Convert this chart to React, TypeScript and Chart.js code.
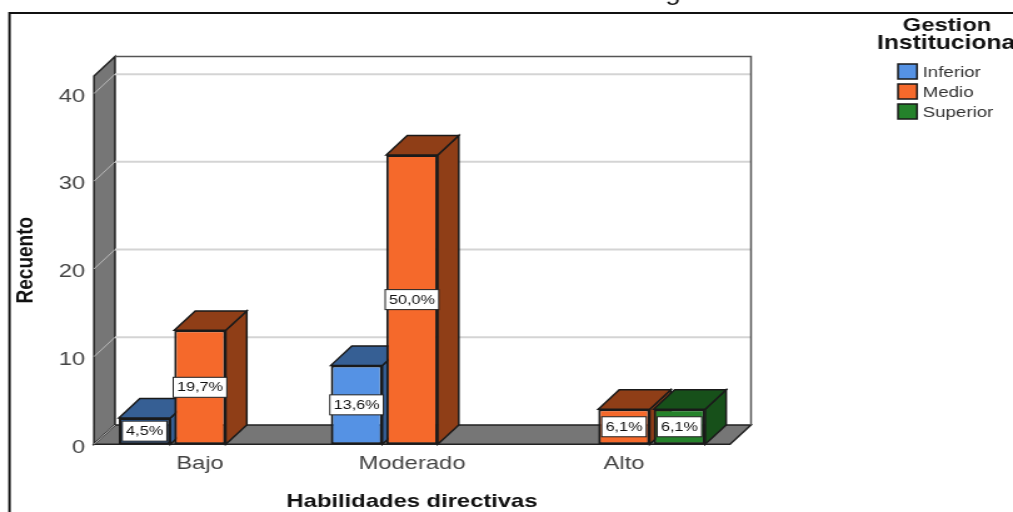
import React, { useEffect, useRef } from "react";
import { Chart, registerables } from "chart.js";

Chart.register(...registerables);

const categories = ["Bajo", "Moderado", "Alto"];
const seriesNames = ["Inferior", "Medio", "Superior"];
const inferior = [3, 9, null];
const medio = [13, 33, 4];
const superior = [null, null, 4];
const inferiorPct = ["4,5%", "13,6%", ""];
const medioPct = ["19,7%", "50,0%", "6,1%"];
const superiorPct = ["", "", "6,1%"];
const yTicks = [0, 10, 20, 30, 40];
const legendTitle = ["Gestion", "Institucional"];
const xTitle = "Habilidades directivas";
const yTitle = "Recuento";

const frontColors = ["#5592e4", "#f5692b", "#25822b"];
const inferiorFills = ["#2f62a3", "#5592e4", "#5592e4"];
const shadeColors = ["#365f94", "#8f3e17", "#17501a"];
const outline = "#1a1a1a";
const wallGray = "#767676";
const gridGray = "#d4d4d4";
const FONT = "'Liberation Sans', Arial, sans-serif";

// The drawing surface is narrower than its display width; CSS widens everything evenly.
const DRAW_W = 810;
const DRAW_H = 512;
const DISPLAY_W = 1013;
const K = DISPLAY_W / DRAW_W;
const DX = 21 / K; // depth of the 3D box, horizontally
const DY = 19.4; // depth of the 3D box, vertically
const PAD_LEFT = 9.2;

function poly(ctx: CanvasRenderingContext2D, pts: number[][], fill: string, stroke: string, lw = 1.5) {
  ctx.beginPath();
  pts.forEach(([x, y], i) => (i ? ctx.lineTo(x, y) : ctx.moveTo(x, y)));
  ctx.closePath();
  ctx.fillStyle = fill;
  ctx.fill();
  ctx.lineWidth = lw;
  ctx.strokeStyle = stroke;
  ctx.stroke();
}

const box3d = {
  id: "box3d",
  // Frame, walls, floor and gridlines, then each series from left to right with
  // its top and side faces beneath its front faces so that neighbours overlap properly
  beforeDatasetsDraw(chart: any) {
    const { ctx, chartArea: a, scales } = chart;
    const y = scales.y;
    ctx.save();

    ctx.strokeStyle = "#111";
    ctx.lineWidth = 2;
    ctx.beginPath();
    ctx.moveTo(DRAW_W, 13);
    ctx.lineTo(9.5 / K, 13);
    ctx.lineTo(9.5 / K, DRAW_H);
    ctx.stroke();

    ctx.fillStyle = "#111";
    ctx.font = `22px ${FONT}`;
    ctx.textAlign = "center";
    ctx.textBaseline = "alphabetic";
    ctx.fillText("g", 673 / K, 0);

    const l = a.left, r = a.right, t = a.top, b = a.bottom;
    poly(ctx, [[l, b], [l, t], [l + DX, t - DY], [l + DX, b - DY]], wallGray, "#222");
    poly(ctx, [[l, b], [r, b], [r + DX, b - DY], [l + DX, b - DY]], wallGray, "#222");

    for (const v of yTicks) {
      const py = y.getPixelForValue(v);
      ctx.strokeStyle = "#b8b8b8";
      ctx.lineWidth = 1;
      ctx.beginPath();
      ctx.moveTo(l, py);
      ctx.lineTo(l + DX, py - DY);
      ctx.stroke();
      if (v > 0) {
        ctx.strokeStyle = gridGray;
        ctx.lineWidth = 2;
        ctx.beginPath();
        ctx.moveTo(l + DX, py - DY);
        ctx.lineTo(r + DX, py - DY);
        ctx.stroke();
      }
    }
    ctx.strokeStyle = "#555";
    ctx.lineWidth = 1.5;
    ctx.beginPath();
    ctx.moveTo(l + DX, t - DY);
    ctx.lineTo(r + DX, t - DY);
    ctx.lineTo(r + DX, b - DY);
    ctx.stroke();

    chart.data.datasets.forEach((ds: any, d: number) => {
      const meta = chart.getDatasetMeta(d);
      meta.data.forEach((bar: any, i: number) => {
        if (ds.data[i] == null) return;
        const x0 = bar.x - bar.width / 2;
        const x1 = bar.x + bar.width / 2;
        const top = bar.y;
        const bot = bar.base;
        poly(ctx, [[x1, bot], [x1, top], [x1 + DX, top - DY], [x1 + DX, bot - DY]], shadeColors[d], outline);
        poly(ctx, [[x0, top], [x1, top], [x1 + DX, top - DY], [x0 + DX, top - DY]], shadeColors[d], outline);
      });
      meta.controller.draw();
    });

    ctx.restore();
  },
  // Series are already painted above, in their own order
  beforeDatasetDraw() {
    return false;
  },
  // Percentage boxes and the legend
  afterDatasetsDraw(chart: any) {
    const { ctx } = chart;
    const pct = [inferiorPct, medioPct, superiorPct];
    ctx.save();
    ctx.font = `13px ${FONT}`;
    ctx.textAlign = "center";
    ctx.textBaseline = "middle";
    pct.forEach((labels, d) => {
      chart.getDatasetMeta(d).data.forEach((bar: any, i: number) => {
        const text = labels[i];
        if (!text) return;
        const w = ctx.measureText(text).width + 6;
        const h = 20;
        const cy = (bar.y + bar.base) / 2;
        ctx.fillStyle = "#fff";
        ctx.strokeStyle = "#222";
        ctx.lineWidth = 1;
        ctx.fillRect(bar.x - w / 2, cy - h / 2, w, h);
        ctx.strokeRect(bar.x - w / 2, cy - h / 2, w, h);
        ctx.fillStyle = "#111";
        ctx.fillText(text, bar.x, cy + 0.5);
      });
    });

    ctx.fillStyle = "#111";
    ctx.font = `bold 19px ${FONT}`;
    ctx.fillText(legendTitle[0], 947 / K, 25.5);
    ctx.font = `bold 19.7px ${FONT}`;
    ctx.textAlign = "left";
    ctx.fillText(legendTitle[1], 877 / K, 44);

    ctx.font = `15px ${FONT}`;
    seriesNames.forEach((name, i) => {
      const cy = 71.5 + i * 20;
      ctx.fillStyle = frontColors[i];
      ctx.strokeStyle = outline;
      ctx.lineWidth = 1.5;
      ctx.fillRect(898 / K, cy - 7.5, 19 / K, 15);
      ctx.strokeRect(898 / K, cy - 7.5, 19 / K, 15);
      ctx.fillStyle = "#333";
      ctx.fillText(name, 922.5 / K, cy + 1.5);
    });
    ctx.restore();
  },
};

export default function App() {
  const ref = useRef<HTMLCanvasElement>(null);

  useEffect(() => {
    const seriesData = [inferior, medio, superior];
    const chart = new Chart(ref.current!, {
      type: "bar",
      data: {
        labels: categories,
        datasets: seriesNames.map((name, i) => ({
          label: name,
          data: seriesData[i],
          backgroundColor: i === 0 ? inferiorFills : frontColors[i],
          borderColor: outline,
          borderWidth: 2,
          borderSkipped: false,
          categoryPercentage: 0.784,
          barPercentage: 0.93,
        })),
      },
      options: {
        responsive: false,
        animation: false,
        devicePixelRatio: 1,
        events: [],
        layout: { padding: { left: PAD_LEFT, right: DRAW_W - 730 / K, top: 76, bottom: 0 } },
        plugins: { legend: { display: false }, tooltip: { enabled: false }, title: { display: false } },
        scales: {
          x: {
            grid: { display: false, drawTicks: false },
            border: { display: false },
            ticks: { color: "#444", font: { family: FONT, size: 19 }, padding: 8, maxRotation: 0 },
            title: {
              display: true,
              text: xTitle,
              color: "#111",
              font: { family: FONT, size: 19, weight: "bold" },
              padding: { top: 4, bottom: -0.8 },
            },
            afterFit: (s: any) => { s.height = 67.7; },
          },
          y: {
            min: 0,
            max: 42,
            grid: { display: false, drawTicks: false },
            border: { display: false },
            afterBuildTicks: (s: any) => {
              s.ticks = yTicks.map((value) => ({ value }));
            },
            ticks: { color: "#444", font: { family: FONT, size: 19 }, padding: 7, labelOffset: 3 },
            title: {
              display: true,
              text: yTitle,
              color: "#111",
              font: { family: FONT, size: 19, weight: "bold" },
              padding: { top: 0, bottom: 0 },
            },
            afterFit: (s: any) => { s.width = 94 / K - PAD_LEFT; },
          },
        },
      },
      plugins: [box3d],
    } as any);
    return () => chart.destroy();
  }, []);

  return (
    <canvas
      ref={ref}
      width={DRAW_W}
      height={DRAW_H}
      style={{ position: "absolute", left: 0, top: 0, width: DISPLAY_W, height: DRAW_H, display: "block" }}
    />
  );
}
